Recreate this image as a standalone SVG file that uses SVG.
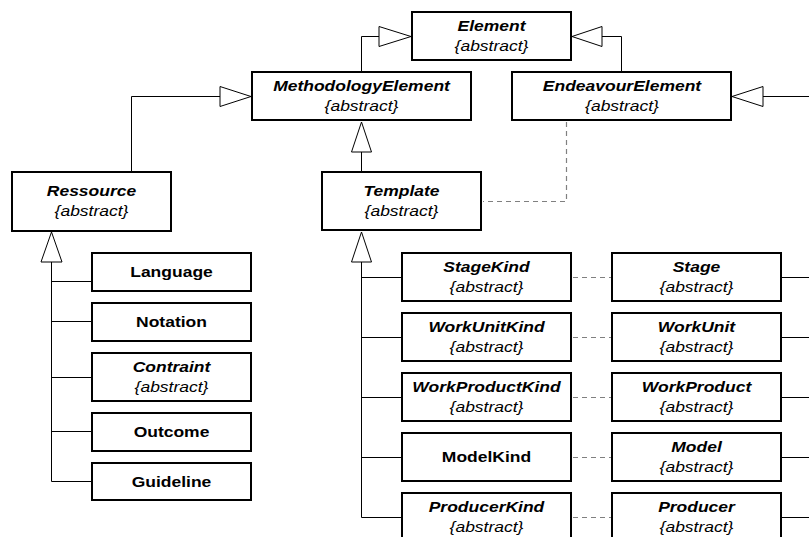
<svg xmlns="http://www.w3.org/2000/svg" width="809" height="537" viewBox="0 0 809 537">
<style>
.box{fill:#fff;stroke:#000;stroke-width:2}
.ln{fill:none;stroke:#000;stroke-width:1}
.tri{fill:#fff;stroke:#000;stroke-width:1;stroke-linejoin:miter}
.dep{fill:none;stroke:#808080;stroke-width:1.2;stroke-dasharray:5 4}
text{font-family:"Liberation Sans",Arial,sans-serif;font-size:14px;fill:#000;text-anchor:middle}
.n{font-weight:bold}
.a{font-weight:bold;font-style:italic}
.s{font-style:italic}
</style>
<rect width="809" height="537" fill="#fff"/>
<g id="connectors">
<polyline class="ln" points="379,36.5 361.5,36.5 361.5,71"/>
<polyline class="ln" points="602,36.5 621.5,36.5 621.5,71"/>
<polyline class="ln" points="220,96.5 131.5,96.5 131.5,171"/>
<polyline class="ln" points="763,96.5 809,96.5"/>
<polyline class="ln" points="361.5,152 361.5,171"/>
<polyline class="ln" points="361.5,262 361.5,517.5 401,517.5"/>
<line class="ln" x1="361.5" y1="277.5" x2="401" y2="277.5"/>
<line class="ln" x1="361.5" y1="337.5" x2="401" y2="337.5"/>
<line class="ln" x1="361.5" y1="397.5" x2="401" y2="397.5"/>
<line class="ln" x1="361.5" y1="457.5" x2="401" y2="457.5"/>
<polyline class="ln" points="51.5,262 51.5,481.5 91,481.5"/>
<line class="ln" x1="51.5" y1="281.5" x2="91" y2="281.5"/>
<line class="ln" x1="51.5" y1="321.5" x2="91" y2="321.5"/>
<line class="ln" x1="51.5" y1="377.5" x2="91" y2="377.5"/>
<line class="ln" x1="51.5" y1="431.5" x2="91" y2="431.5"/>
<line class="ln" x1="782" y1="277.5" x2="809" y2="277.5"/>
<line class="ln" x1="782" y1="337.5" x2="809" y2="337.5"/>
<line class="ln" x1="782" y1="397.5" x2="809" y2="397.5"/>
<line class="ln" x1="782" y1="457.5" x2="809" y2="457.5"/>
<line class="ln" x1="782" y1="517.5" x2="809" y2="517.5"/>
<polygon class="tri" points="411,36.5 379,26.5 379,46.5"/>
<polygon class="tri" points="572,36.5 602,26.5 602,46.5"/>
<polygon class="tri" points="251,96.5 220,86.5 220,106.5"/>
<polygon class="tri" points="732,96.5 763,86.5 763,106.5"/>
<polygon class="tri" points="361.5,122 351.5,152 371.5,152"/>
<polygon class="tri" points="361.5,232 351.5,262 371.5,262"/>
<polygon class="tri" points="51.5,232 41,262 62,262"/>
<polyline class="dep" points="566.5,122 566.5,201.5 483,201.5"/>
<line class="dep" x1="573" y1="277.5" x2="611" y2="277.5"/>
<line class="dep" x1="573" y1="337.5" x2="611" y2="337.5"/>
<line class="dep" x1="573" y1="397.5" x2="611" y2="397.5"/>
<line class="dep" x1="573" y1="457.5" x2="611" y2="457.5"/>
<line class="dep" x1="573" y1="517.5" x2="611" y2="517.5"/>
</g>
<g id="element"><rect class="box" x="412" y="12" width="159" height="48"/>
<text class="a" transform="translate(491.5,31) scale(1.25,1)">Element</text>
<text class="s" transform="translate(491.5,51) scale(1.25,1)">{abstract}</text></g>
<g id="methodologyElement"><rect class="box" x="252" y="72" width="219" height="48"/>
<text class="a" transform="translate(361.5,91) scale(1.25,1)">MethodologyElement</text>
<text class="s" transform="translate(361.5,111) scale(1.25,1)">{abstract}</text></g>
<g id="endeavourElement"><rect class="box" x="512" y="72" width="219" height="48"/>
<text class="a" transform="translate(622,91) scale(1.25,1)">EndeavourElement</text>
<text class="s" transform="translate(622,111) scale(1.25,1)">{abstract}</text></g>
<g id="ressource"><rect class="box" x="12" y="172" width="159" height="59"/>
<text class="a" transform="translate(91.5,196) scale(1.25,1)">Ressource</text>
<text class="s" transform="translate(91.5,216) scale(1.25,1)">{abstract}</text></g>
<g id="template"><rect class="box" x="322" y="172" width="159" height="58"/>
<text class="a" transform="translate(401.5,196) scale(1.25,1)">Template</text>
<text class="s" transform="translate(401.5,216) scale(1.25,1)">{abstract}</text></g>
<g id="language"><rect class="box" x="92" y="253" width="159" height="38"/>
<text class="n" transform="translate(171.5,277) scale(1.25,1)">Language</text></g>
<g id="notation"><rect class="box" x="92" y="303" width="159" height="38"/>
<text class="n" transform="translate(171.5,327) scale(1.25,1)">Notation</text></g>
<g id="contraint"><rect class="box" x="92" y="353" width="159" height="48"/>
<text class="a" transform="translate(171.5,372) scale(1.25,1)">Contraint</text>
<text class="s" transform="translate(171.5,392) scale(1.25,1)">{abstract}</text></g>
<g id="outcome"><rect class="box" x="92" y="413" width="159" height="38"/>
<text class="n" transform="translate(171.5,437) scale(1.25,1)">Outcome</text></g>
<g id="guideline"><rect class="box" x="92" y="463" width="159" height="37"/>
<text class="n" transform="translate(171.5,486.5) scale(1.25,1)">Guideline</text></g>
<g id="stageKind"><rect class="box" x="402" y="253" width="169" height="48"/>
<text class="a" transform="translate(486.5,272) scale(1.25,1)">StageKind</text>
<text class="s" transform="translate(486.5,292) scale(1.25,1)">{abstract}</text></g>
<g id="workUnitKind"><rect class="box" x="402" y="313" width="169" height="48"/>
<text class="a" transform="translate(486.5,332) scale(1.25,1)">WorkUnitKind</text>
<text class="s" transform="translate(486.5,352) scale(1.25,1)">{abstract}</text></g>
<g id="workProductKind"><rect class="box" x="402" y="373" width="169" height="48"/>
<text class="a" transform="translate(486.5,392) scale(1.25,1)">WorkProductKind</text>
<text class="s" transform="translate(486.5,412) scale(1.25,1)">{abstract}</text></g>
<g id="modelKind"><rect class="box" x="402" y="433" width="169" height="48"/>
<text class="n" transform="translate(486.5,462) scale(1.25,1)">ModelKind</text></g>
<g id="producerKind"><rect class="box" x="402" y="493" width="169" height="48"/>
<text class="a" transform="translate(486.5,512) scale(1.25,1)">ProducerKind</text>
<text class="s" transform="translate(486.5,532) scale(1.25,1)">{abstract}</text></g>
<g id="stage"><rect class="box" x="612" y="253" width="169" height="48"/>
<text class="a" transform="translate(696.5,272) scale(1.25,1)">Stage</text>
<text class="s" transform="translate(696.5,292) scale(1.25,1)">{abstract}</text></g>
<g id="workUnit"><rect class="box" x="612" y="313" width="169" height="48"/>
<text class="a" transform="translate(696.5,332) scale(1.25,1)">WorkUnit</text>
<text class="s" transform="translate(696.5,352) scale(1.25,1)">{abstract}</text></g>
<g id="workProduct"><rect class="box" x="612" y="373" width="169" height="48"/>
<text class="a" transform="translate(696.5,392) scale(1.25,1)">WorkProduct</text>
<text class="s" transform="translate(696.5,412) scale(1.25,1)">{abstract}</text></g>
<g id="model"><rect class="box" x="612" y="433" width="169" height="48"/>
<text class="a" transform="translate(696.5,452) scale(1.25,1)">Model</text>
<text class="s" transform="translate(696.5,472) scale(1.25,1)">{abstract}</text></g>
<g id="producer"><rect class="box" x="612" y="493" width="169" height="48"/>
<text class="a" transform="translate(696.5,512) scale(1.25,1)">Producer</text>
<text class="s" transform="translate(696.5,532) scale(1.25,1)">{abstract}</text></g>
</svg>
